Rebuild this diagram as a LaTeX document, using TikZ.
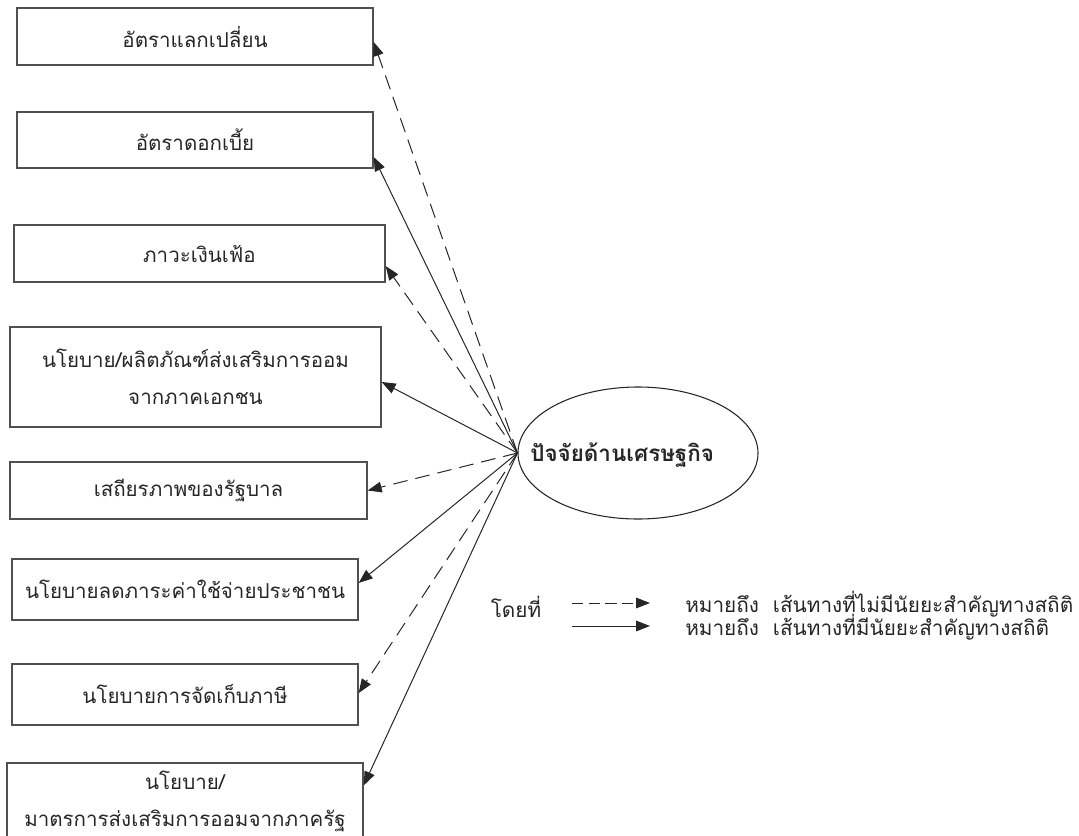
\documentclass[tikz,border=0pt]{standalone}
\usepackage{fontspec}
\usetikzlibrary{shapes.geometric,arrows.meta}
\newfontfamily\thaifont[Script=Thai]{Loma}
\definecolor{ink}{HTML}{262626}
\definecolor{frame}{HTML}{505050}
% font size that gives a sample text a wanted width (in pt)
\newlength\probe
\newcommand\fitsize[3]{%
  \settowidth\probe{\fontsize{10}{12}\selectfont #3}%
  \pgfmathsetmacro#1{10*#2/\probe}}
\begin{document}
\fitsize\boxfs{230.25}{\thaifont นโยบาย/ผลิตภัณฑ์ส่งเสริมการออม}%
\fitsize\legfs{291}{\thaifont หมายถึง\ \ เส้นทางที่ไม่มีนัยยะสำคัญทางสถิติ}%
\fitsize\ellfs{97.5}{\thaifont\bfseries ปัจจัยด้านเศร}%
\begin{tikzpicture}[x=0.75pt,y=-0.75pt,
  box/.style={draw=frame,line width=1pt,rectangle,inner sep=2pt,align=center,
    font=\thaifont\fontsize{\boxfs}{27.75}\selectfont,text=ink},
  factor/.style={draw=ink,line width=0.8pt,ellipse,inner sep=0pt,
    minimum width=180pt,minimum height=99pt},
  factortext/.style={font=\thaifont\bfseries\fontsize{\ellfs}{20}\selectfont,
    text=ink,inner sep=0pt},
  legtext/.style={font=\thaifont\fontsize{\legfs}{18}\selectfont,text=ink,inner sep=0pt},
  sig/.style={draw=ink,line width=0.75pt,-{Triangle[length=10.5pt,width=8pt]}},
  nonsig/.style={sig,dash pattern=on 11pt off 6pt}]
\useasboundingbox (0,0) rectangle (1079,836);

% factor boxes on the left
\node[box,minimum width=267pt,minimum height=42.75pt] (b1) at (195,36.5) {อัตราแลกเปลี่ยน};
\node[box,minimum width=267pt,minimum height=42pt] (b2) at (195,140) {อัตราดอกเบี้ย};
\node[box,minimum width=278.25pt,minimum height=42.75pt] (b3) at (199.5,253.5) {ภาวะเงินเฟ้อ};
\node[box,minimum width=278.25pt,minimum height=75pt] (b4) at (195.5,377) {นโยบาย/ผลิตภัณฑ์ส่งเสริมการออม\\จากภาคเอกชน};
\node[box,minimum width=267.75pt,minimum height=42.75pt] (b5) at (188.5,490.5) {เสถียรภาพของรัฐบาล};
\node[box,minimum width=259.5pt,minimum height=45.75pt] (b6) at (185,589.5) {นโยบายลดภาระค่าใช้จ่ายประชาชน};
\node[box,minimum width=259.5pt,minimum height=45.75pt] (b7) at (185,694.5) {นโยบายการจัดเก็บภาษี};
\node[box,minimum width=267pt,minimum height=57.75pt] (b8) at (185,801.5) {นโยบาย/\\มาตรการส่งเสริมการออมจากภาครัฐ};

% economic factor
\node[factor] (e) at (638,453) {};
\node[factortext,anchor=west] (et) at (530,455) {ปัจจัยด้านเศรษฐกิจ};

% paths from the economic factor
\draw[nonsig] (e.west) -- ([yshift=-4.1pt]b1.east);
\draw[sig]    (e.west) -- ([yshift=-12.75pt]b2.east);
\draw[nonsig] (e.west) -- ([yshift=-9.4pt]b3.east);
\draw[sig]    (e.west) -- ([yshift=-3.75pt]b4.east);
\draw[nonsig] (e.west) -- (b5.east);
\draw[sig]    (e.west) -- ([yshift=4.9pt]b6.east);
\draw[nonsig] (e.west) -- ([yshift=1.1pt]b7.east);
\draw[sig]    (e.west) -- ([yshift=12pt]b8.east);

% legend
\node[legtext] (where) at (516,607) {โดยที่};
\coordinate (d1) at (572,603);
\coordinate (d2) at (650,603);
\coordinate (s1) at (572,626);
\coordinate (s2) at (650,626);
\draw[sig,dash pattern=on 8.5pt off 4pt] (d1) -- (d2);
\draw[sig] (s1) -- (s2);
\node[legtext,anchor=west] (ln) at (685,604) {หมายถึง\ \ เส้นทางที่ไม่มีนัยยะสำคัญทางสถิติ};
\node[legtext,anchor=west] (ls) at (685,627) {หมายถึง\ \ เส้นทางที่มีนัยยะสำคัญทางสถิติ};
\end{tikzpicture}
\end{document}
